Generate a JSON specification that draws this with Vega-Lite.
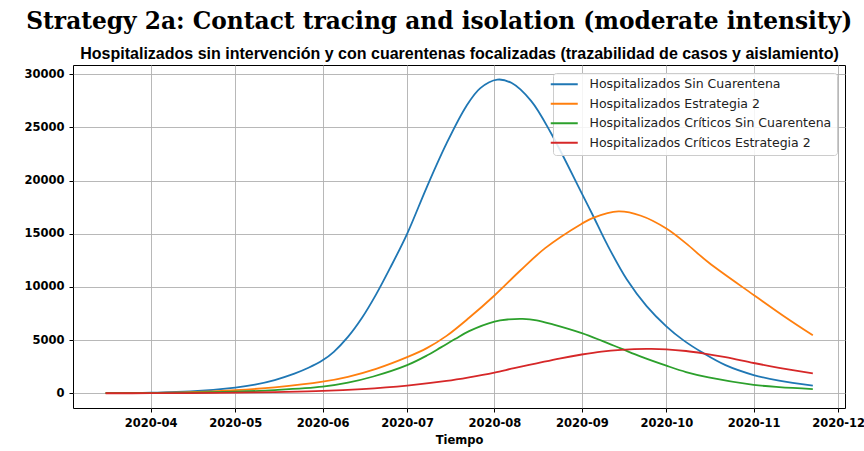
{
  "$schema": "https://vega.github.io/schema/vega-lite/v6.json",
  "autosize": {"type": "none"},
  "padding": {"left": 73, "top": 65, "right": 19, "bottom": 43},
  "background": "white",
  "width": 772,
  "height": 343,
  "title": {
    "text": "Strategy 2a: Contact tracing and isolation (moderate intensity)",
    "font": "DejaVu Serif", "fontSize": 23.3, "fontWeight": "bold", "color": "#000",
    "anchor": "middle", "frame": "bounds", "offset": 11, "dx": -5
  },
  "config": {"view": {"stroke": "#000", "strokeWidth": 1}},
  "data": {
    "values": [
      {"fecha": "2020-03-16", "serie": "Hospitalizados Sin Cuarentena", "valor": 20},
      {"fecha": "2020-04-01", "serie": "Hospitalizados Sin Cuarentena", "valor": 60},
      {"fecha": "2020-04-15", "serie": "Hospitalizados Sin Cuarentena", "valor": 170},
      {"fecha": "2020-05-01", "serie": "Hospitalizados Sin Cuarentena", "valor": 540},
      {"fecha": "2020-05-08", "serie": "Hospitalizados Sin Cuarentena", "valor": 820},
      {"fecha": "2020-05-15", "serie": "Hospitalizados Sin Cuarentena", "valor": 1250},
      {"fecha": "2020-05-22", "serie": "Hospitalizados Sin Cuarentena", "valor": 1850},
      {"fecha": "2020-05-27", "serie": "Hospitalizados Sin Cuarentena", "valor": 2400},
      {"fecha": "2020-06-01", "serie": "Hospitalizados Sin Cuarentena", "valor": 3100},
      {"fecha": "2020-06-05", "serie": "Hospitalizados Sin Cuarentena", "valor": 3900},
      {"fecha": "2020-06-10", "serie": "Hospitalizados Sin Cuarentena", "valor": 5300},
      {"fecha": "2020-06-15", "serie": "Hospitalizados Sin Cuarentena", "valor": 7100},
      {"fecha": "2020-06-20", "serie": "Hospitalizados Sin Cuarentena", "valor": 9300},
      {"fecha": "2020-06-25", "serie": "Hospitalizados Sin Cuarentena", "valor": 11800},
      {"fecha": "2020-07-01", "serie": "Hospitalizados Sin Cuarentena", "valor": 15000},
      {"fecha": "2020-07-08", "serie": "Hospitalizados Sin Cuarentena", "valor": 19400},
      {"fecha": "2020-07-15", "serie": "Hospitalizados Sin Cuarentena", "valor": 23500},
      {"fecha": "2020-07-22", "serie": "Hospitalizados Sin Cuarentena", "valor": 27000},
      {"fecha": "2020-07-27", "serie": "Hospitalizados Sin Cuarentena", "valor": 28700},
      {"fecha": "2020-08-02", "serie": "Hospitalizados Sin Cuarentena", "valor": 29500},
      {"fecha": "2020-08-07", "serie": "Hospitalizados Sin Cuarentena", "valor": 29200},
      {"fecha": "2020-08-14", "serie": "Hospitalizados Sin Cuarentena", "valor": 27500},
      {"fecha": "2020-08-21", "serie": "Hospitalizados Sin Cuarentena", "valor": 24500},
      {"fecha": "2020-09-01", "serie": "Hospitalizados Sin Cuarentena", "valor": 18800},
      {"fecha": "2020-09-05", "serie": "Hospitalizados Sin Cuarentena", "valor": 16700},
      {"fecha": "2020-09-10", "serie": "Hospitalizados Sin Cuarentena", "valor": 14000},
      {"fecha": "2020-09-17", "serie": "Hospitalizados Sin Cuarentena", "valor": 10700},
      {"fecha": "2020-09-24", "serie": "Hospitalizados Sin Cuarentena", "valor": 8200},
      {"fecha": "2020-10-01", "serie": "Hospitalizados Sin Cuarentena", "valor": 6300},
      {"fecha": "2020-10-07", "serie": "Hospitalizados Sin Cuarentena", "valor": 5000},
      {"fecha": "2020-10-14", "serie": "Hospitalizados Sin Cuarentena", "valor": 3800},
      {"fecha": "2020-10-22", "serie": "Hospitalizados Sin Cuarentena", "valor": 2650},
      {"fecha": "2020-11-01", "serie": "Hospitalizados Sin Cuarentena", "valor": 1720},
      {"fecha": "2020-11-10", "serie": "Hospitalizados Sin Cuarentena", "valor": 1200},
      {"fecha": "2020-11-22", "serie": "Hospitalizados Sin Cuarentena", "valor": 720},

      {"fecha": "2020-03-16", "serie": "Hospitalizados Estrategia 2", "valor": 15},
      {"fecha": "2020-04-01", "serie": "Hospitalizados Estrategia 2", "valor": 40},
      {"fecha": "2020-04-15", "serie": "Hospitalizados Estrategia 2", "valor": 100},
      {"fecha": "2020-05-01", "serie": "Hospitalizados Estrategia 2", "valor": 290},
      {"fecha": "2020-05-15", "serie": "Hospitalizados Estrategia 2", "valor": 560},
      {"fecha": "2020-06-01", "serie": "Hospitalizados Estrategia 2", "valor": 1090},
      {"fecha": "2020-06-10", "serie": "Hospitalizados Estrategia 2", "valor": 1550},
      {"fecha": "2020-06-20", "serie": "Hospitalizados Estrategia 2", "valor": 2300},
      {"fecha": "2020-07-01", "serie": "Hospitalizados Estrategia 2", "valor": 3400},
      {"fecha": "2020-07-08", "serie": "Hospitalizados Estrategia 2", "valor": 4250},
      {"fecha": "2020-07-15", "serie": "Hospitalizados Estrategia 2", "valor": 5400},
      {"fecha": "2020-07-23", "serie": "Hospitalizados Estrategia 2", "valor": 7100},
      {"fecha": "2020-08-01", "serie": "Hospitalizados Estrategia 2", "valor": 9200},
      {"fecha": "2020-08-10", "serie": "Hospitalizados Estrategia 2", "valor": 11500},
      {"fecha": "2020-08-19", "serie": "Hospitalizados Estrategia 2", "valor": 13650},
      {"fecha": "2020-09-01", "serie": "Hospitalizados Estrategia 2", "valor": 15950},
      {"fecha": "2020-09-05", "serie": "Hospitalizados Estrategia 2", "valor": 16500},
      {"fecha": "2020-09-14", "serie": "Hospitalizados Estrategia 2", "valor": 17100},
      {"fecha": "2020-09-22", "serie": "Hospitalizados Estrategia 2", "valor": 16700},
      {"fecha": "2020-10-01", "serie": "Hospitalizados Estrategia 2", "valor": 15500},
      {"fecha": "2020-10-08", "serie": "Hospitalizados Estrategia 2", "valor": 14100},
      {"fecha": "2020-10-16", "serie": "Hospitalizados Estrategia 2", "valor": 12300},
      {"fecha": "2020-11-01", "serie": "Hospitalizados Estrategia 2", "valor": 9250},
      {"fecha": "2020-11-12", "serie": "Hospitalizados Estrategia 2", "valor": 7200},
      {"fecha": "2020-11-22", "serie": "Hospitalizados Estrategia 2", "valor": 5450},

      {"fecha": "2020-03-16", "serie": "Hospitalizados Críticos Sin Cuarentena", "valor": 10},
      {"fecha": "2020-04-01", "serie": "Hospitalizados Críticos Sin Cuarentena", "valor": 25},
      {"fecha": "2020-04-15", "serie": "Hospitalizados Críticos Sin Cuarentena", "valor": 60},
      {"fecha": "2020-05-01", "serie": "Hospitalizados Críticos Sin Cuarentena", "valor": 150},
      {"fecha": "2020-05-15", "serie": "Hospitalizados Críticos Sin Cuarentena", "valor": 300},
      {"fecha": "2020-06-01", "serie": "Hospitalizados Críticos Sin Cuarentena", "valor": 620},
      {"fecha": "2020-06-10", "serie": "Hospitalizados Críticos Sin Cuarentena", "valor": 1000},
      {"fecha": "2020-06-19", "serie": "Hospitalizados Críticos Sin Cuarentena", "valor": 1580},
      {"fecha": "2020-07-01", "serie": "Hospitalizados Críticos Sin Cuarentena", "valor": 2650},
      {"fecha": "2020-07-08", "serie": "Hospitalizados Críticos Sin Cuarentena", "valor": 3550},
      {"fecha": "2020-07-13", "serie": "Hospitalizados Críticos Sin Cuarentena", "valor": 4320},
      {"fecha": "2020-07-18", "serie": "Hospitalizados Críticos Sin Cuarentena", "valor": 5100},
      {"fecha": "2020-07-23", "serie": "Hospitalizados Críticos Sin Cuarentena", "valor": 5850},
      {"fecha": "2020-08-01", "serie": "Hospitalizados Críticos Sin Cuarentena", "valor": 6750},
      {"fecha": "2020-08-06", "serie": "Hospitalizados Críticos Sin Cuarentena", "valor": 6950},
      {"fecha": "2020-08-11", "serie": "Hospitalizados Críticos Sin Cuarentena", "valor": 7000},
      {"fecha": "2020-08-16", "serie": "Hospitalizados Críticos Sin Cuarentena", "valor": 6860},
      {"fecha": "2020-08-22", "serie": "Hospitalizados Críticos Sin Cuarentena", "valor": 6450},
      {"fecha": "2020-09-01", "serie": "Hospitalizados Críticos Sin Cuarentena", "valor": 5650},
      {"fecha": "2020-09-08", "serie": "Hospitalizados Críticos Sin Cuarentena", "valor": 4950},
      {"fecha": "2020-09-15", "serie": "Hospitalizados Críticos Sin Cuarentena", "valor": 4200},
      {"fecha": "2020-09-22", "serie": "Hospitalizados Críticos Sin Cuarentena", "valor": 3450},
      {"fecha": "2020-10-01", "serie": "Hospitalizados Críticos Sin Cuarentena", "valor": 2600},
      {"fecha": "2020-10-08", "serie": "Hospitalizados Críticos Sin Cuarentena", "valor": 2000},
      {"fecha": "2020-10-16", "serie": "Hospitalizados Críticos Sin Cuarentena", "valor": 1500},
      {"fecha": "2020-11-01", "serie": "Hospitalizados Críticos Sin Cuarentena", "valor": 800},
      {"fecha": "2020-11-10", "serie": "Hospitalizados Críticos Sin Cuarentena", "valor": 580},
      {"fecha": "2020-11-22", "serie": "Hospitalizados Críticos Sin Cuarentena", "valor": 400},

      {"fecha": "2020-03-16", "serie": "Hospitalizados Críticos Estrategia 2", "valor": 5},
      {"fecha": "2020-04-01", "serie": "Hospitalizados Críticos Estrategia 2", "valor": 10},
      {"fecha": "2020-04-15", "serie": "Hospitalizados Críticos Estrategia 2", "valor": 25},
      {"fecha": "2020-05-01", "serie": "Hospitalizados Críticos Estrategia 2", "valor": 60},
      {"fecha": "2020-05-15", "serie": "Hospitalizados Críticos Estrategia 2", "valor": 120},
      {"fecha": "2020-06-01", "serie": "Hospitalizados Críticos Estrategia 2", "valor": 220},
      {"fecha": "2020-06-15", "serie": "Hospitalizados Críticos Estrategia 2", "valor": 400},
      {"fecha": "2020-07-01", "serie": "Hospitalizados Críticos Estrategia 2", "valor": 730},
      {"fecha": "2020-07-15", "serie": "Hospitalizados Críticos Estrategia 2", "valor": 1160},
      {"fecha": "2020-07-23", "serie": "Hospitalizados Críticos Estrategia 2", "valor": 1500},
      {"fecha": "2020-08-01", "serie": "Hospitalizados Críticos Estrategia 2", "valor": 1950},
      {"fecha": "2020-08-08", "serie": "Hospitalizados Críticos Estrategia 2", "valor": 2370},
      {"fecha": "2020-08-16", "serie": "Hospitalizados Críticos Estrategia 2", "valor": 2820},
      {"fecha": "2020-08-24", "serie": "Hospitalizados Críticos Estrategia 2", "valor": 3270},
      {"fecha": "2020-09-01", "serie": "Hospitalizados Críticos Estrategia 2", "valor": 3650},
      {"fecha": "2020-09-08", "serie": "Hospitalizados Críticos Estrategia 2", "valor": 3920},
      {"fecha": "2020-09-15", "serie": "Hospitalizados Críticos Estrategia 2", "valor": 4080},
      {"fecha": "2020-09-24", "serie": "Hospitalizados Críticos Estrategia 2", "valor": 4170},
      {"fecha": "2020-10-01", "serie": "Hospitalizados Críticos Estrategia 2", "valor": 4140},
      {"fecha": "2020-10-08", "serie": "Hospitalizados Críticos Estrategia 2", "valor": 3980},
      {"fecha": "2020-10-14", "serie": "Hospitalizados Críticos Estrategia 2", "valor": 3760},
      {"fecha": "2020-10-22", "serie": "Hospitalizados Críticos Estrategia 2", "valor": 3400},
      {"fecha": "2020-11-01", "serie": "Hospitalizados Críticos Estrategia 2", "valor": 2850},
      {"fecha": "2020-11-10", "serie": "Hospitalizados Críticos Estrategia 2", "valor": 2400},
      {"fecha": "2020-11-22", "serie": "Hospitalizados Críticos Estrategia 2", "valor": 1880}
    ]
  },
  "resolve": {"axis": {"x": "independent"}},
  "layer": [
    {
      "mark": {"type": "line", "strokeWidth": 1.8, "interpolate": "catmull-rom"},
      "encoding": {
        "x": {
          "field": "fecha", "type": "temporal",
          "scale": {"type": "utc", "domain": ["2020-03-04T10:00:00Z", "2020-12-03T10:00:00Z"], "nice": false},
          "axis": {
            "title": "Tiempo",
            "labelExpr": "utcFormat(datum.value, '%Y-%m')",
            "values": [
              {"year": 2020, "month": 4, "date": 1, "utc": true},
              {"year": 2020, "month": 5, "date": 1, "utc": true},
              {"year": 2020, "month": 6, "date": 1, "utc": true},
              {"year": 2020, "month": 7, "date": 1, "utc": true},
              {"year": 2020, "month": 8, "date": 1, "utc": true},
              {"year": 2020, "month": 9, "date": 1, "utc": true},
              {"year": 2020, "month": 10, "date": 1, "utc": true},
              {"year": 2020, "month": 11, "date": 1, "utc": true},
              {"year": 2020, "month": 12, "date": 1, "utc": true}
            ],
            "domain": false, "grid": true, "gridColor": "#b0b0b0", "gridWidth": 0.9,
            "ticks": true, "tickColor": "#000", "tickSize": 4, "tickWidth": 1,
            "labelFont": "DejaVu Sans", "labelFontSize": 11.5, "labelFontWeight": "bold", "labelColor": "#000",
            "labelPadding": 5, "labelFlush": false, "labelOverlap": false,
            "titleFont": "DejaVu Sans", "titleFontSize": 11.5, "titleFontWeight": "bold", "titleColor": "#000", "titlePadding": 6
          }
        },
        "y": {
          "field": "valor", "type": "quantitative",
          "scale": {"domain": [-1382, 30875], "nice": false, "zero": false},
          "axis": {
            "title": null, "values": [0, 5000, 10000, 15000, 20000, 25000, 30000], "format": "d",
            "domain": false, "grid": true, "gridColor": "#b0b0b0", "gridWidth": 0.9,
            "ticks": true, "tickColor": "#000", "tickSize": 4, "tickWidth": 1,
            "labelFont": "DejaVu Sans", "labelFontSize": 11.5, "labelFontWeight": "bold", "labelColor": "#000",
            "labelPadding": 5
          }
        },
        "color": {
          "field": "serie", "type": "nominal",
          "scale": {
            "domain": ["Hospitalizados Sin Cuarentena", "Hospitalizados Estrategia 2", "Hospitalizados Críticos Sin Cuarentena", "Hospitalizados Críticos Estrategia 2"],
            "range": ["#1f77b4", "#ff7f0e", "#2ca02c", "#d62728"]
          },
          "legend": {
            "title": null, "orient": "none", "legendX": 480, "legendY": 8,
            "symbolType": "M-2.7,0H2.7", "symbolSize": 100, "symbolStrokeWidth": 2,
            "labelFont": "DejaVu Sans", "labelFontSize": 12.5, "labelColor": "#222", "labelOffset": 19, "labelLimit": 400,
            "fillColor": "rgba(255,255,255,0.85)", "strokeColor": "#cccccc", "cornerRadius": 3,
            "padding": 5, "rowPadding": 6.5
          }
        }
      }
    },
    {
      "mark": {"type": "line", "strokeOpacity": 0},
      "encoding": {
        "x": {
          "field": "fecha", "type": "temporal",
          "axis": {
            "orient": "top",
            "title": "Hospitalizados sin intervención y con cuarentenas focalizadas (trazabilidad de casos y aislamiento)",
            "labels": false, "ticks": false, "domain": false, "grid": false,
            "titleFont": "Liberation Sans", "titleFontSize": 16, "titleFontWeight": "bold", "titleColor": "#000",
            "titlePadding": 4
          }
        },
        "y": {"field": "valor", "type": "quantitative"},
        "detail": {"field": "serie", "type": "nominal"}
      }
    }
  ]
}
